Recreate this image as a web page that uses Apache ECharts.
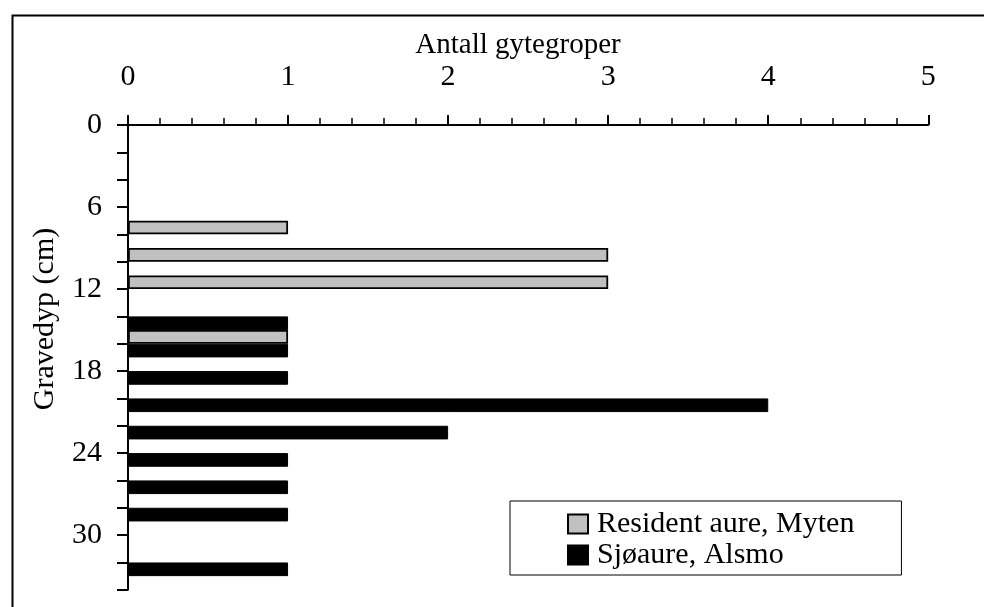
<!DOCTYPE html>
<html>
<head>
<meta charset="utf-8">
<script src="https://cdn.jsdelivr.net/npm/echarts@6/dist/echarts.min.js"></script>
<style>
  html, body { margin: 0; padding: 0; background: #fff; }
  #chart { width: 984px; height: 607px; }
</style>
</head>
<body>
<div id="chart"></div>
<script>
// Depth bins of 2 cm (start of each bin, cm)
const depthBins = ['0', '2', '4', '6', '8', '10', '12', '14', '16', '18', '20', '22', '24', '26', '28', '30', '32'];
// Number of redds per depth bin
const residentMyten = [0, 0, 0, 1, 3, 3, 0, 1, 0, 0, 0, 0, 0, 0, 0, 0, 0];
const sjoaureAlsmo  = [0, 0, 0, 0, 0, 0, 0, 1, 1, 1, 4, 2, 1, 1, 1, 0, 1];
// Labelled ticks
const depthTickLabels = ['0', '6', '12', '18', '24', '30'];
const countTickLabels = ['0', '1', '2', '3', '4', '5'];

const seriesNames = ['Resident aure, Myten', 'Sjøaure, Alsmo'];
const FONT = '"Liberation Serif", "Times New Roman", serif';

const chart = echarts.init(document.getElementById('chart'), null, { renderer: 'canvas' });

const option = {
  backgroundColor: '#ffffff',
  animation: false,
  textStyle: { fontFamily: FONT, color: '#000' },
  grid: { left: 128, right: 55.7, top: 125, bottom: 17.2, containLabel: false },
  xAxis: {
    type: 'value',
    position: 'top',
    min: 0,
    max: countTickLabels.length - 1,
    interval: 1,
    axisLine: { show: true, lineStyle: { color: '#000', width: 2 } },
    axisTick: { show: true, inside: false, length: 10, lineStyle: { color: '#000', width: 2 } },
    minorTick: { show: true, splitNumber: 5, length: 7, lineStyle: { color: '#000', width: 1.5 } },
    axisLabel: {
      margin: 33, fontSize: 30, fontFamily: FONT, color: '#000',
      formatter: v => countTickLabels[Math.round(v)] ?? ''
    },
    splitLine: { show: false }
  },
  yAxis: [
    {
      // Depth scale carrying ticks and labels
      type: 'value',
      inverse: true,
      min: 0,
      max: 34,
      interval: 2,
      axisLine: { show: true, onZero: false, lineStyle: { color: '#000', width: 2 } },
      axisTick: { show: true, length: 11, lineStyle: { color: '#000', width: 2 } },
      axisLabel: {
        margin: 26, fontSize: 30, fontFamily: FONT, color: '#000',
        formatter: v => depthTickLabels.includes(String(v)) ? String(v) : ''
      },
      splitLine: { show: false }
    },
    {
      // Band axis that places the bars inside each 2 cm bin
      type: 'category',
      inverse: true,
      data: depthBins,
      show: false,
      axisLine: { show: false },
      axisTick: { show: false },
      axisLabel: { show: false }
    }
  ],
  legend: {
    data: seriesNames,
    orient: 'vertical',
    left: 510,
    top: 501,
    icon: 'rect',
    itemWidth: 20,
    itemHeight: 19,
    itemGap: 1,
    padding: [8, 47, 5, 57],
    borderColor: '#000',
    borderWidth: 1,
    backgroundColor: '#fff',
    textStyle: { fontSize: 30, lineHeight: 30, fontFamily: FONT, color: '#000', padding: [0, 0, 0, 4] }
  },
  series: [
    {
      name: seriesNames[1],
      type: 'bar',
      yAxisIndex: 1,
      data: sjoaureAlsmo,
      barCategoryGap: '0%',
      barGap: '0%',
      itemStyle: { color: '#000000', borderColor: '#000', borderWidth: 1 }
    },
    {
      name: seriesNames[0],
      type: 'bar',
      yAxisIndex: 1,
      data: residentMyten,
      barCategoryGap: '0%',
      barGap: '0%',
      itemStyle: { color: '#c0c0c0', borderColor: '#000', borderWidth: 1.8 }
    }
  ],
  graphic: [
    {
      type: 'rect',
      left: 10, top: 13,
      shape: { width: 1000, height: 700 },
      style: { fill: 'none', stroke: '#000', lineWidth: 2 },
      silent: true, z: -1
    },
    {
      type: 'text',
      x: 518, y: 45,
      style: {
        text: 'Antall gytegroper', fontSize: 29, fontFamily: FONT, fill: '#000',
        align: 'center', verticalAlign: 'middle'
      }
    },
    {
      type: 'text',
      x: 45, y: 319,
      rotation: Math.PI / 2,
      style: {
        text: 'Gravedyp (cm)', fontSize: 30, fontFamily: FONT, fill: '#000',
        align: 'center', verticalAlign: 'middle'
      }
    }
  ]
};

chart.setOption(option);
</script>
</body>
</html>
